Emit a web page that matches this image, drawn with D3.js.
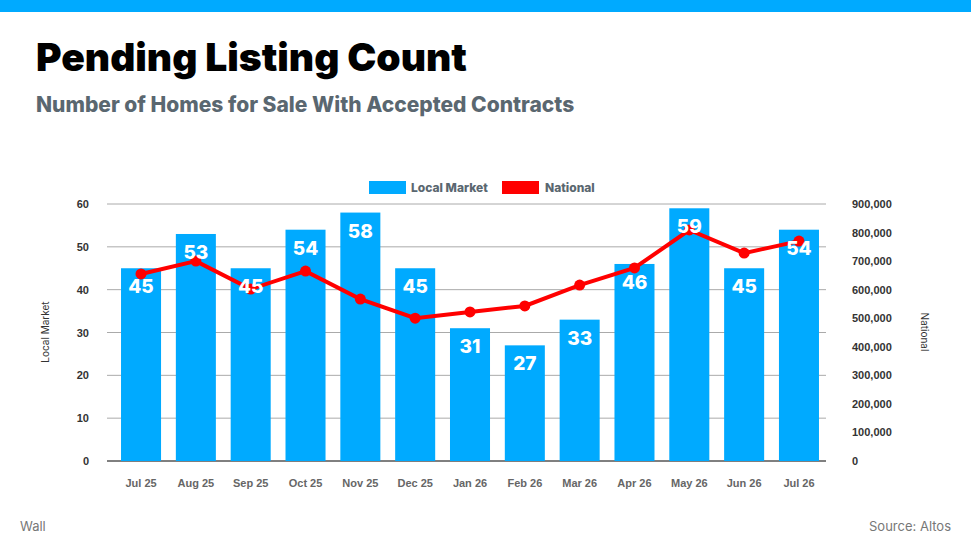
<!DOCTYPE html>
<html><head><meta charset="utf-8">
<script src="https://cdn.jsdelivr.net/npm/d3@7"></script>
<style>body{margin:0;background:#fff;font-family:Inter,"Open Sans",sans-serif}</style>
</head><body><svg id="c" width="971" height="546"></svg>
<script>
const months = ['Jul 25','Aug 25','Sep 25','Oct 25','Nov 25','Dec 25','Jan 26','Feb 26','Mar 26','Apr 26','May 26','Jun 26','Jul 26'];
const localMarket = [45,53,45,54,58,45,31,27,33,46,59,45,54];
const national = [655000,700000,602000,665000,567000,500000,522000,543000,616000,676000,809000,728000,770000];
const leftTicks = [0,10,20,30,40,50,60];
const rightTicks = [0,100000,200000,300000,400000,500000,600000,700000,800000,900000];

const svg = d3.select('#c');
svg.append('rect').attr('width',971).attr('height',12).attr('fill','#00aaff');
svg.append('text').attr('x',36).attr('y',71).attr('font-size',39).attr('font-weight',900).attr('fill','#000').text('Pending Listing Count');
svg.append('text').attr('x',36).attr('y',112).attr('font-size',21).attr('font-weight',800).attr('fill','#5a6770').text('Number of Homes for Sale With Accepted Contracts');
svg.append('text').attr('x',20).attr('y',531).attr('font-size',13).attr('fill','#777').text('Wall');
svg.append('text').attr('x',951).attr('y',531).attr('font-size',13).attr('fill','#777').attr('text-anchor','end').text('Source: Altos');

const plotLeft = 107, plotRight = 826, plotTop = 204, plotBottom = 461;
const x = d3.scaleBand().domain(months).range([114,plotRight]).paddingInner(0.27).paddingOuter(0.128);
const y = d3.scaleLinear().domain([0,60]).range([plotBottom,plotTop]);
const y2 = d3.scaleLinear().domain([0,900000]).range([plotBottom,plotTop]);

svg.append('g').selectAll('line').data(leftTicks.slice(1)).join('line')
  .attr('x1',plotLeft).attr('x2',plotRight).attr('y1',d=>y(d)).attr('y2',d=>y(d)).attr('stroke','#aaa');

svg.append('g').attr('transform',`translate(${plotLeft},0)`)
  .call(d3.axisLeft(y).tickValues(leftTicks).tickSize(0).tickPadding(18))
  .call(g=>g.select('.domain').remove())
  .selectAll('text').attr('font-size',11).attr('font-weight',700).attr('fill','#333');
svg.append('g').attr('transform',`translate(${plotRight},0)`)
  .call(d3.axisRight(y2).tickValues(rightTicks).tickSize(0).tickPadding(26).tickFormat(d3.format(',')))
  .call(g=>g.select('.domain').remove())
  .selectAll('text').attr('font-size',11).attr('font-weight',700).attr('fill','#333');
svg.append('g').attr('transform',`translate(0,${plotBottom})`)
  .call(d3.axisBottom(x).tickSize(0).tickPadding(18))
  .call(g=>g.select('.domain').attr('stroke','#000').attr('d',`M${plotLeft},0H${plotRight}`))
  .selectAll('text').attr('font-size',11).attr('font-weight',700).attr('fill','#666');

svg.append('text').attr('transform','translate(49,332) rotate(-90)').attr('text-anchor','middle').attr('font-size',10).attr('fill','#333').text('Local Market');
svg.append('text').attr('transform','translate(921,332) rotate(90)').attr('text-anchor','middle').attr('font-size',10).attr('fill','#333').text('National');

svg.append('g').selectAll('rect').data(localMarket).join('rect')
  .attr('x',(d,i)=>x(months[i])).attr('width',x.bandwidth())
  .attr('y',d=>y(d)).attr('height',d=>plotBottom-y(d)).attr('fill','#00aaff');

const line = d3.line().x((d,i)=>x(months[i])+x.bandwidth()/2).y(d=>y2(d));
svg.append('path').datum(national).attr('d',line).attr('fill','none').attr('stroke','#ff0000').attr('stroke-width',4);
svg.append('g').selectAll('circle').data(national).join('circle')
  .attr('cx',(d,i)=>x(months[i])+x.bandwidth()/2).attr('cy',d=>y2(d)).attr('r',5.5).attr('fill','#ff0000');

svg.append('g').selectAll('text').data(localMarket).join('text')
  .attr('x',(d,i)=>x(months[i])+x.bandwidth()/2).attr('y',d=>y(d)+25)
  .attr('text-anchor','middle').attr('font-size',19).attr('font-weight',800).attr('fill','#fff').text(d=>d);

const lg = svg.append('g').attr('transform','translate(369,181)');
lg.append('rect').attr('width',37).attr('height',13).attr('fill','#00aaff');
lg.append('text').attr('x',42).attr('y',11).attr('font-size',12).attr('font-weight',800).attr('fill','#5a6770').text('Local Market');
lg.append('rect').attr('x',133).attr('width',37).attr('height',13).attr('fill','#ff0000');
lg.append('text').attr('x',176).attr('y',11).attr('font-size',12).attr('font-weight',800).attr('fill','#5a6770').text('National');
</script></body></html>
